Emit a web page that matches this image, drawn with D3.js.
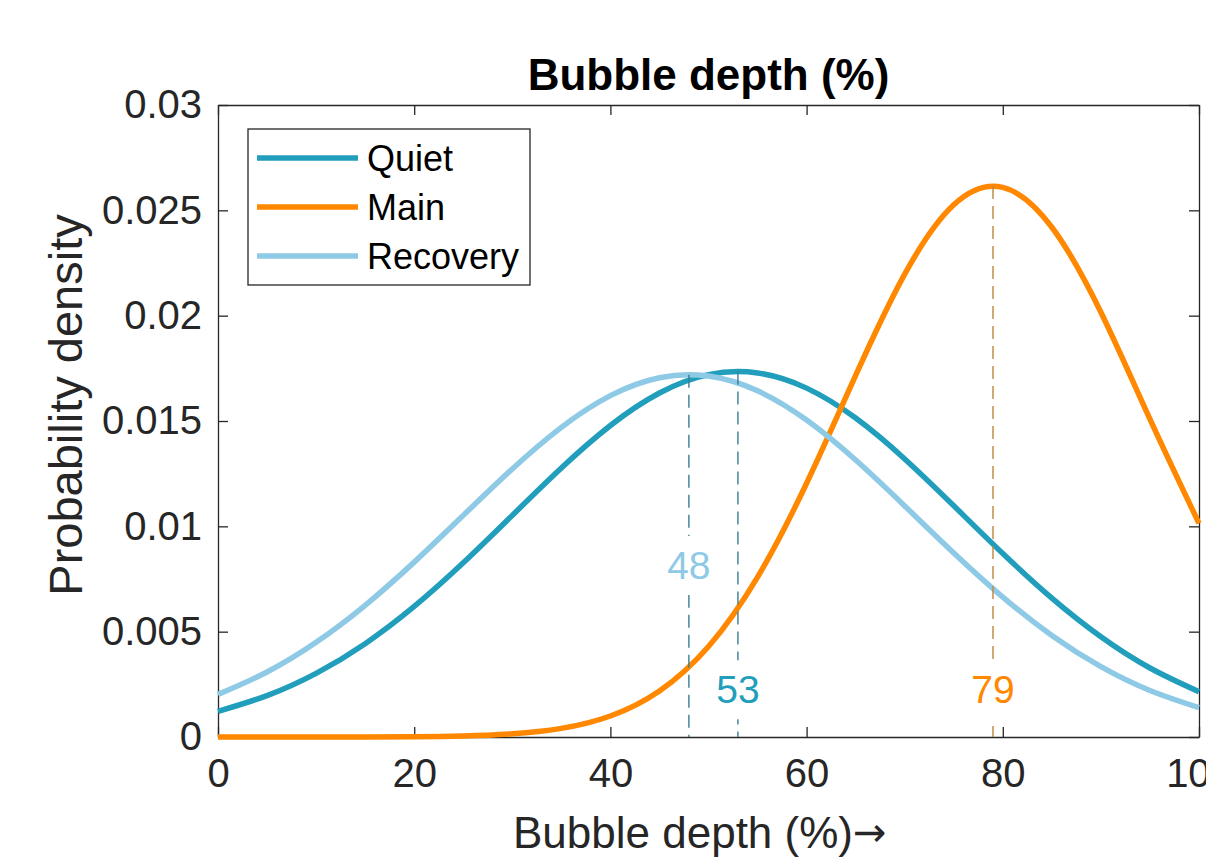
<!DOCTYPE html>
<html>
<head>
<meta charset="utf-8">
<script src="https://cdn.jsdelivr.net/npm/d3@7"></script>
<style>
  html, body { margin: 0; padding: 0; background: #fff; }
  svg { display: block; font-family: "Liberation Sans", Arial, Helvetica, sans-serif; }
</style>
</head>
<body>
<svg id="chart" width="1206" height="857"></svg>
<script>
// Bubble depth grid (%) shared by all three density curves
const depth = [0, 5, 10, 15, 20, 25, 30, 35, 40, 45, 50, 55, 60, 65, 70, 75, 80, 85, 90, 95, 100];

// Probability density per storm phase
const quiet = [0.001219, 0.001965, 0.003021, 0.004431, 0.006197, 0.008268, 0.010521, 0.012769,
  0.014785, 0.016328, 0.017199, 0.017281, 0.016561, 0.015139, 0.013200, 0.010978, 0.008709,
  0.006590, 0.004756, 0.003275, 0.002150];
const main = [0.0000000, 0.0000002, 0.0000010, 0.0000040, 0.0000148, 0.0000499, 0.0001508, 0.0004090,
  0.0009980, 0.0021850, 0.0042960, 0.0075900, 0.0120430, 0.0171620, 0.0219700, 0.0252600,
  0.0260870, 0.0241980, 0.0201620, 0.0150890, 0.0101420];
const recovery = [0.002023, 0.003087, 0.004496, 0.006253, 0.008301, 0.010520, 0.012726, 0.014698,
  0.016203, 0.017053, 0.017132, 0.016431, 0.015043, 0.013147, 0.010969, 0.008736, 0.006642,
  0.004821, 0.003340, 0.002209, 0.001395];

// Series names, most likely depth (mode) and the density at that mode
const seriesNames = ["Quiet", "Main", "Recovery"];
const modeDepth = [53, 79, 48];
const modeDensity = [0.01735, 0.02615, 0.01720];

// Axis ticks
const xTicks = [0, 20, 40, 60, 80, 100];
const yTicks = [0, 0.005, 0.01, 0.015, 0.02, 0.025, 0.03];
const yTickLabels = ["0", "0.005", "0.01", "0.015", "0.02", "0.025", "0.03"];

const colors = { Quiet: "#209EBB", Main: "#FF8800", Recovery: "#8ECAE6" };
const guideColors = { Quiet: "#3B7D93", Main: "#C0843E", Recovery: "#3B7D93" };
// vertical placement of each mode label, in density units
const labelBaseline = { Quiet: 0.0016, Main: 0.0016, Recovery: 0.0075 };

const series = seriesNames.map((name, i) => ({
  name,
  values: [quiet, main, recovery][i].map((v, j) => ({ x: depth[j], y: v })),
  mode: modeDepth[i],
  peak: modeDensity[i]
}));

const svg = d3.select("#chart");
const L = 218, T = 105, R = 1199, B = 737;
const x = d3.scaleLinear().domain([0, 100]).range([L, R]);
const y = d3.scaleLinear().domain([0, 0.03]).range([B, T]);
const ink = "#262626";

svg.append("defs").append("clipPath").attr("id", "plotClip")
  .append("rect").attr("x", L - 3).attr("y", T).attr("width", R - L + 6).attr("height", B - T + 3);

// Axes with inward ticks on all four sides
function styleAxis(g) {
  g.select(".domain").attr("stroke", ink).attr("stroke-width", 1.3);
  g.selectAll(".tick line").attr("stroke", ink).attr("stroke-width", 1.3);
  g.selectAll(".tick text").attr("fill", ink).attr("font-size", 40)
    .attr("font-family", "'Liberation Sans', Arial, sans-serif");
}
svg.append("g").attr("transform", `translate(0,${B})`)
  .call(d3.axisBottom(x).tickValues(xTicks).tickSize(-10).tickPadding(22).tickSizeOuter(0))
  .call(styleAxis);
svg.append("g").attr("transform", `translate(0,${T})`)
  .call(d3.axisTop(x).tickValues(xTicks).tickSize(-10).tickFormat("").tickSizeOuter(0))
  .call(styleAxis);
svg.append("g").attr("transform", `translate(${L},0)`)
  .call(d3.axisLeft(y).tickValues(yTicks).tickSize(-10).tickPadding(16).tickSizeOuter(0)
    .tickFormat((d, i) => yTickLabels[i]))
  .call(styleAxis);
svg.append("g").attr("transform", `translate(${R},0)`)
  .call(d3.axisRight(y).tickValues(yTicks).tickSize(-10).tickFormat("").tickSizeOuter(0))
  .call(styleAxis);

// Density curves
const line = d3.line().x(d => x(d.x)).y(d => y(d.y)).curve(d3.curveNatural);
const plot = svg.append("g").attr("clip-path", "url(#plotClip)");
plot.selectAll("path.curve").data(series).join("path")
  .attr("class", "curve")
  .attr("d", d => line(d.values))
  .attr("fill", "none")
  .attr("stroke", d => colors[d.name])
  .attr("stroke-width", 5.5)
  .attr("stroke-linejoin", "round");

// Mode guides: dashed drop lines from the peak to the axis
svg.selectAll("line.guide").data(series).join("line")
  .attr("class", "guide")
  .attr("x1", d => x(d.mode)).attr("x2", d => x(d.mode))
  .attr("y1", d => y(d.peak)).attr("y2", B)
  .attr("stroke", d => guideColors[d.name])
  .attr("stroke-width", 1.4)
  .attr("stroke-dasharray", "13,7");

// Mode labels on white boxes
const labels = svg.selectAll("g.modeLabel").data(series).join("g").attr("class", "modeLabel");
labels.append("text")
  .attr("x", d => x(d.mode))
  .attr("y", d => y(labelBaseline[d.name]))
  .attr("text-anchor", "middle")
  .attr("font-size", 39)
  .attr("fill", d => colors[d.name])
  .text(d => d.mode);
labels.each(function () {
  const g = d3.select(this);
  const bb = g.select("text").node().getBBox();
  g.insert("rect", "text")
    .attr("x", bb.x - 4).attr("y", bb.y - 8)
    .attr("width", bb.width + 8).attr("height", bb.height + 16)
    .attr("fill", "#fff");
});

// Legend
const lg = svg.append("g");
lg.append("rect").attr("x", 248).attr("y", 129).attr("width", 282).attr("height", 156)
  .attr("fill", "#fff").attr("stroke", ink).attr("stroke-width", 1.3);
const rows = lg.selectAll("g.row").data(series).join("g").attr("class", "row")
  .attr("transform", (d, i) => `translate(0,${158 + i * 49})`);
rows.append("line").attr("x1", 257).attr("x2", 358)
  .attr("stroke", d => colors[d.name]).attr("stroke-width", 5.5);
rows.append("text").attr("x", 367).attr("y", 13).attr("font-size", 36).attr("fill", "#000")
  .text(d => d.name);

// Title and axis labels
svg.append("text").attr("x", (L + R) / 2).attr("y", 90).attr("text-anchor", "middle")
  .attr("font-size", 44).attr("font-weight", "bold").attr("fill", "#000")
  .text("Bubble depth (%)");
const xl = svg.append("text").attr("x", 513).attr("y", 848)
  .attr("font-size", 44).attr("fill", ink);
xl.append("tspan").text("Bubble depth (%)");
xl.append("tspan").attr("font-family", "'DejaVu Sans', sans-serif").attr("font-size", 40)
  .attr("dy", -2).text("→");
svg.append("text").attr("transform", "translate(82,405) rotate(-90)").attr("text-anchor", "middle")
  .attr("font-size", 47).attr("fill", ink)
  .text("Probability density");
</script>
</body>
</html>
